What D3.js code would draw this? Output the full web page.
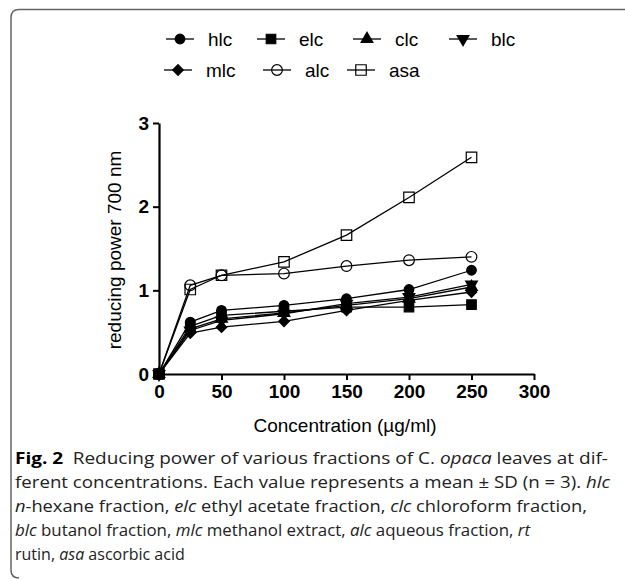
<!DOCTYPE html>
<html>
<head>
<meta charset="utf-8">
<script src="https://cdn.jsdelivr.net/npm/d3@7"></script>
<style>
  body { margin: 0; background: #fff; }
  svg { display: block; }
</style>
</head>
<body>
<svg id="chart" width="625" height="579"></svg>
<script>
// concentrations (µg/ml)
var concentrations = [0, 25, 50, 100, 150, 200, 250];

// reducing power at 700 nm
var hlc = [0, 0.62, 0.76, 0.82, 0.90, 1.01, 1.24];
var elc = [0, 0.57, 0.70, 0.75, 0.80, 0.80, 0.83];
var clc = [0, 0.54, 0.66, 0.73, 0.82, 0.90, 1.04];
var blc = [0, 0.52, 0.64, 0.72, 0.84, 0.92, 1.07];
var mlc = [0, 0.49, 0.56, 0.63, 0.76, 0.88, 0.98];
var alc = [0, 1.06, 1.18, 1.20, 1.29, 1.36, 1.40];
var asa = [0, 1.01, 1.18, 1.34, 1.66, 2.11, 2.59];

var seriesNames = ["hlc", "elc", "clc", "blc", "mlc", "alc", "asa"];
var seriesValues = [hlc, elc, clc, blc, mlc, alc, asa];

var xTicks = [0, 50, 100, 150, 200, 250, 300];
var yTicks = [0, 1, 2, 3];

var svg = d3.select("#chart");

/** marker per series */
var markers = {
	hlc: { type: d3.symbolCircle, size: 72, fill: "#000", rotate: 0 },
	elc: { type: d3.symbolSquare, size: 90, fill: "#000", rotate: 0 },
	clc: { type: d3.symbolTriangle, size: 60, fill: "#000", rotate: 0 },
	blc: { type: d3.symbolTriangle, size: 60, fill: "#000", rotate: 180 },
	mlc: { type: d3.symbolSquare, size: 56, fill: "#000", rotate: 45 },
	alc: { type: d3.symbolCircle, size: 90, fill: "none", rotate: 0 },
	asa: { type: d3.symbolSquare, size: 110, fill: "none", rotate: 0 }
};

function drawMarker(g, name, cx, cy){
	var m = markers[name];
	g.append("path")
	.attr("d", d3.symbol().type(m.type).size(m.size)())
	.attr("transform", "translate(" + cx + "," + cy + ") rotate(" + m.rotate + ")")
	.attr("fill", m.fill)
	.attr("stroke", "#000")
	.attr("stroke-width", 1.2);
}

// frame around figure + caption
svg.append("path")
.attr("d", "M625,9.5 H19 Q11,9.5 11,17.5 V570 Q11,578 19,578")
.attr("fill", "none")
.attr("stroke", "#666")
.attr("stroke-width", 1.5);

// scales
var x = d3.scaleLinear().domain([0, 300]).range([159, 534]);
var y = d3.scaleLinear().domain([0, 3]).range([374, 123]);

// axes
var xAxis = svg.append("g")
.attr("transform", "translate(0," + y(0) + ")")
.call(d3.axisBottom(x).tickValues(xTicks).tickFormat(d3.format("d"))
	.tickSize(6).tickSizeOuter(0).tickPadding(5));

var yAxis = svg.append("g")
.attr("transform", "translate(" + x(0) + ",0)")
.call(d3.axisLeft(y).tickValues(yTicks).tickFormat(d3.format("d"))
	.tickSize(6).tickSizeOuter(0).tickPadding(4));

[xAxis, yAxis].forEach(function(a){
	a.select(".domain").attr("stroke", "#000").attr("stroke-width", 2.2);
	a.selectAll(".tick line").attr("stroke", "#000").attr("stroke-width", 2);
	a.selectAll(".tick text")
	.attr("fill", "#000")
	.style("font-family", "'Liberation Sans', Arial, sans-serif")
	.style("font-weight", "bold")
	.style("font-size", "19px");
});

// axis titles
svg.append("text")
.attr("x", 345).attr("y", 432)
.attr("text-anchor", "middle")
.style("font-family", "'Liberation Sans', Arial, sans-serif")
.style("font-size", "19px")
.text("Concentration (\u00b5g/ml)");

svg.append("text")
.attr("transform", "translate(121,250) rotate(-90)")
.attr("text-anchor", "middle")
.style("font-family", "'Liberation Sans', Arial, sans-serif")
.style("font-size", "19px")
.text("reducing power 700 nm");

// series lines and markers
var line = d3.line()
.x(function(d, i){ return x(concentrations[i]); })
.y(function(d){ return y(d); });

var plot = svg.append("g");
seriesNames.forEach(function(name, k){
	var vals = seriesValues[k];
	plot.append("path")
	.attr("d", line(vals))
	.attr("fill", "none")
	.attr("stroke", "#000")
	.attr("stroke-width", 1.3);
	vals.forEach(function(v, i){
		drawMarker(plot, name, x(concentrations[i]), y(v));
	});
});

// legend
var legendPos = [
	[180, 39], [271, 39], [367, 39], [463, 39],
	[178, 70], [277, 70], [361, 70]
];
var legend = svg.append("g");
seriesNames.forEach(function(name, k){
	var p = legendPos[k];
	legend.append("line")
	.attr("x1", p[0] - 14).attr("x2", p[0] + 14)
	.attr("y1", p[1]).attr("y2", p[1])
	.attr("stroke", "#000").attr("stroke-width", 1.3);
	drawMarker(legend, name, p[0], p[1]);
	legend.append("text")
	.attr("x", p[0] + 28).attr("y", p[1] + 7)
	.style("font-family", "'Liberation Sans', Arial, sans-serif")
	.style("font-size", "19px")
	.text(name);
});

// caption
var captionLines = [
	[["b", "Fig. 2"], ["n", "\u2002Reducing power of various fractions of "], ["n", "C. "], ["i", "opaca"], ["n", " leaves at dif-"]],
	[["n", "ferent concentrations. Each value represents a mean \u00b1 SD (n = 3). "], ["i", "hlc"]],
	[["i", "n"], ["n", "-hexane fraction, "], ["i", "elc"], ["n", " ethyl acetate fraction, "], ["i", "clc"], ["n", " chloroform fraction,"]],
	[["i", "blc"], ["n", " butanol fraction, "], ["i", "mlc"], ["n", " methanol extract, "], ["i", "alc"], ["n", " aqueous fraction, "], ["i", "rt"]],
	[["n", "rutin, "], ["i", "asa"], ["n", " ascorbic acid"]]
];
var captionWidths = [593, 595, 572, 515, null];

var caption = svg.append("g")
.style("font-family", "'Open Sans', 'Noto Sans', sans-serif")
.style("font-size", "16px")
.attr("fill", "#222");

captionLines.forEach(function(parts, i){
	var t = caption.append("text")
	.attr("x", 15)
	.attr("y", 464 + i * 24);
	if ( captionWidths[i] !== null )
		t.attr("textLength", captionWidths[i]).attr("lengthAdjust", "spacingAndGlyphs");
	parts.forEach(function(p){
		var s = t.append("tspan").text(p[1]);
		if ( p[0] === "b" ) s.style("font-weight", "bold").attr("fill", "#000");
		if ( p[0] === "i" ) s.style("font-style", "italic");
	});
});
</script>
</body>
</html>
